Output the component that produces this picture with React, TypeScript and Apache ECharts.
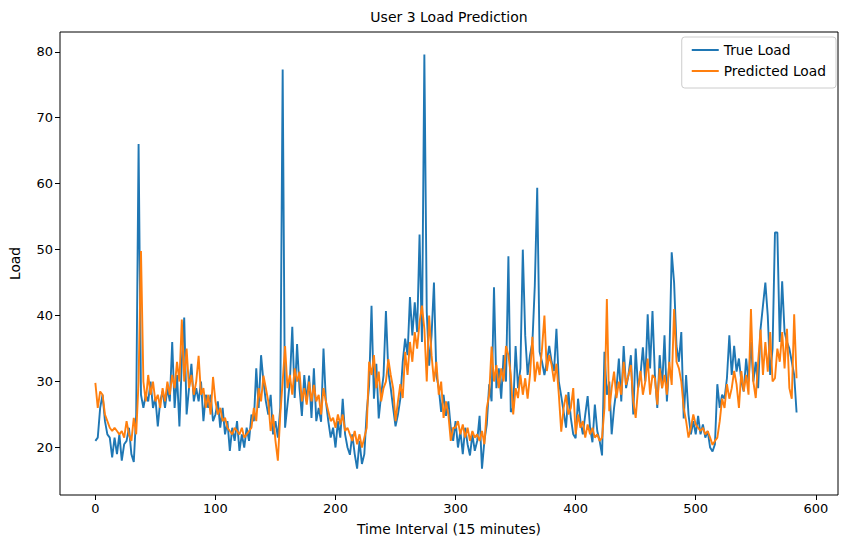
import React, { useEffect, useRef } from "react";
import * as echarts from "echarts";

// Sampled every STEP intervals (index = k * STEP)
const STEP = 2;

const trueLoad: number[] = [
  // 0-38
  21, 21.5, 26, 28, 24, 22, 21.5, 18.5, 21.5, 19, 22, 18, 20.5, 21, 23, 19, 17.8, 25, 66, 28,
  // 40-98
  26, 28, 27, 30, 26, 27.5, 23.2, 27, 28.5, 26, 29, 27, 36, 26, 31, 23.2, 33, 39.7, 25, 29,
  32.7, 27, 29, 27, 30, 24, 28, 26, 28, 24,
  // 100-148
  25, 27, 23, 26, 22, 24, 19.5, 23, 21, 24, 19.5, 22, 20, 23, 21, 25, 24, 32, 26, 34, 30, 27, 25, 28, 22,
  // 150-210
  24, 21.5, 26, 77.3, 23, 26.5, 30, 38.3, 27.5, 35.7, 29, 24.8, 31, 27, 30.9, 24.5, 32, 24, 26, 23.9,
  35, 27, 24, 21.5, 23, 20, 24, 21.5, 27.4, 22, 20,
  // 212-248
  18.9, 22, 19, 16.8, 21, 17.5, 19, 25.4, 29.4, 41.5, 27.4, 32.7, 24.4, 28, 30.9, 40.7, 31.5, 29, 26,
  // 250-298
  23.2, 25, 27.4, 33, 36.5, 34, 42.8, 37, 42, 37.5, 52.3, 36, 79.6, 40.5, 32.4, 37, 45, 31, 29, 25.4,
  28, 24.8, 27, 23, 21,
  // 300-346
  24, 20, 22.5, 19, 23, 20.5, 18.8, 22, 19.5, 21, 24.8, 16.8, 21, 23.5, 29.6, 27, 44.3, 29, 32, 27.4,
  34, 30, 49, 25.4,
  // 348-396
  26, 35.4, 29, 32, 50, 37, 31, 34, 36, 44.6, 59.4, 34.5, 33, 31, 33, 35.4, 33, 31.6, 38, 30,
  27.8, 25.4, 23, 28.4, 24.5,
  // 398-446
  22, 21.4, 27.4, 24, 22, 25, 27.8, 23, 20.8, 26.5, 22.5, 21, 18.8, 34.5, 28, 30, 22, 26, 28.9, 33.5,
  27, 35.4, 29, 31, 34,
  // 448-496
  25, 35, 29, 31, 35.2, 30, 40.2, 32, 40.7, 31, 26, 34, 29, 37, 27, 33, 49.6, 45, 35.4, 33,
  37.5, 24.4, 31, 25, 22,
  // 498-546
  24, 22, 24.8, 22, 23.5, 21.5, 22.5, 20, 19.4, 20.5, 29.6, 26, 28, 27.4, 30.5, 37, 31, 35.4, 31.5, 33.5,
  30, 28.5, 33.5, 30, 36,
  // 548-584
  30, 33, 29, 38, 41.5, 45, 40, 31, 35, 52.6, 52.6, 36, 45.2, 37.5, 36, 35, 33, 31, 25.3,
];

const predictedLoad: number[] = [
  // 0-38
  29.8, 26, 28.5, 28, 25, 24, 23, 22.5, 23, 22.5, 22, 22.5, 21.5, 24, 22, 21, 24.5, 22, 30, 49.8,
  // 40-98
  30, 27, 31, 28, 30, 27, 28, 26, 29, 27, 30, 28, 31, 29, 33, 30, 39.4, 30, 35, 29,
  31, 28, 30, 33.9, 28, 29, 26, 28, 25, 30.7,
  // 100-148
  27, 25, 26, 24, 24.5, 23, 22.5, 22, 23, 22.5, 22, 23, 21.5, 22, 22.5, 23, 26, 24, 29, 27, 30.9, 29, 27, 22.5, 25,
  // 150-210
  21, 18, 25, 30, 35.4, 29, 31, 28, 32, 30, 31.5, 27, 29, 26.5, 30, 27, 29.5, 27, 28, 25,
  29, 27, 25.5, 24, 24.5, 23, 25, 23.5, 25, 22.5, 23,
  // 212-248
  22, 21, 22.5, 20.5, 22, 20, 21.5, 23, 33, 31, 34, 29, 31.5, 27, 29, 30, 33.4, 31, 29,
  // 250-298
  24, 27, 29.6, 27.5, 34.5, 31, 36, 33, 37.5, 35, 39, 41.5, 38, 30, 40, 34, 30, 33, 28, 30,
  24.5, 27, 25, 21, 23,
  // 300-346
  23, 24, 22, 23.5, 21.5, 23, 21, 22.5, 21.5, 22, 21, 22.5, 20.5, 26, 28, 35.3, 30, 32.5, 29, 32,
  30, 35.4, 34, 31,
  // 348-396
  25, 29, 27.5, 31, 28, 30.5, 27.4, 31, 36.8, 30, 33, 31, 35, 40, 31.6, 34, 32.5, 30, 32.7, 28,
  22.4, 26, 28, 25, 26,
  // 398-446
  29, 22, 25, 23, 24, 21.5, 23.5, 22, 23, 21.5, 22, 21, 21.5, 26, 42.5, 25.5, 29, 31.5, 27.5, 30,
  28, 33, 29.5, 31, 32.5,
  // 448-496
  27, 24.5, 29, 31.6, 28, 30, 33.5, 28, 31, 30.5, 26.5, 32, 29, 31, 28, 33, 29.5, 41, 33, 32,
  30, 26, 24, 21.5, 23,
  // 498-546
  25, 23.5, 23, 22.5, 23, 22, 22.5, 21.5, 20.4, 21, 21.5, 24, 27.4, 26, 29.6, 27.4, 29, 31.6, 29.6, 26,
  31.6, 28.5, 31, 28, 41,
  // 548-584
  30, 27.5, 33, 37.9, 31, 36, 31.5, 37.5, 30, 30.5, 35, 33, 37.5, 32, 38, 29, 27.4, 40.2, 30.5,
];

const xTicks = [0, 100, 200, 300, 400, 500, 600];
const yTicks = [20, 30, 40, 50, 60, 70, 80];

const FONT = "DejaVu Sans";

export default function App() {
  const ref = useRef<HTMLDivElement>(null);

  useEffect(() => {
    document.body.style.margin = "0";
    if (!ref.current) return;
    const chart = echarts.init(ref.current, undefined, { renderer: "svg" });
    const toPairs = (arr: number[]) => arr.map((v, k) => [k * STEP, v]);
    chart.setOption({
      animation: false,
      backgroundColor: "#ffffff",
      textStyle: { fontFamily: FONT },
      grid: {
        left: 60,
        top: 32,
        width: 778,
        height: 465,
        show: true,
        borderColor: "#000",
        borderWidth: 1,
        backgroundColor: "transparent",
      },
      graphic: [
        {
          type: "text",
          x: 449,
          y: 10,
          style: {
            text: "User 3 Load Prediction",
            fontFamily: FONT,
            fontSize: 14,
            fill: "#000",
            textAlign: "center",
          },
        },
      ],
      legend: {
        right: 8,
        top: 37,
        orient: "vertical",
        backgroundColor: "#fff",
        borderColor: "#cccccc",
        borderWidth: 1,
        borderRadius: 3,
        padding: [6, 10, 10, 10],
        itemGap: 7,
        itemWidth: 27,
        itemHeight: 2,
        icon: "rect",
        textStyle: { fontFamily: FONT, fontSize: 13.8, color: "#000", padding: [0, 0, 0, 0] },
        data: ["True Load", "Predicted Load"],
      },
      xAxis: {
        type: "value",
        min: -29.45,
        max: 618.5,
        name: "Time Interval (15 minutes)",
        nameLocation: "middle",
        nameGap: 27,
        nameTextStyle: { fontFamily: FONT, fontSize: 13.8, color: "#000" },
        axisLine: { show: false, onZero: false },
        axisTick: {
          show: true,
          inside: false,
          length: 5,
          lineStyle: { color: "#000" },
          customValues: xTicks,
        },
        axisLabel: {
          color: "#000",
          fontFamily: FONT,
          fontSize: 13,
          margin: 7,
          customValues: xTicks,
        },
        splitLine: { show: false },
      },
      yAxis: {
        type: "value",
        min: 12.8,
        max: 83,
        name: "Load",
        nameLocation: "middle",
        nameGap: 38,
        nameTextStyle: { fontFamily: FONT, fontSize: 13.8, color: "#000" },
        axisLine: { show: false, onZero: false },
        axisTick: {
          show: true,
          inside: false,
          length: 5,
          lineStyle: { color: "#000" },
          customValues: yTicks,
        },
        axisLabel: {
          color: "#000",
          fontFamily: FONT,
          fontSize: 13,
          margin: 7,
          customValues: yTicks,
        },
        splitLine: { show: false },
      },
      series: [
        {
          name: "True Load",
          type: "line",
          data: toPairs(trueLoad),
          symbol: "none",
          showSymbol: false,
          color: "#1f77b4",
          lineStyle: { color: "#1f77b4", width: 1.9 },
          z: 2,
        },
        {
          name: "Predicted Load",
          type: "line",
          data: toPairs(predictedLoad),
          symbol: "none",
          showSymbol: false,
          color: "#ff7f0e",
          lineStyle: { color: "#ff7f0e", width: 1.9 },
          z: 3,
        },
      ],
    });
    return () => chart.dispose();
  }, []);

  return <div ref={ref} style={{ width: 844, height: 541 }} />;
}
